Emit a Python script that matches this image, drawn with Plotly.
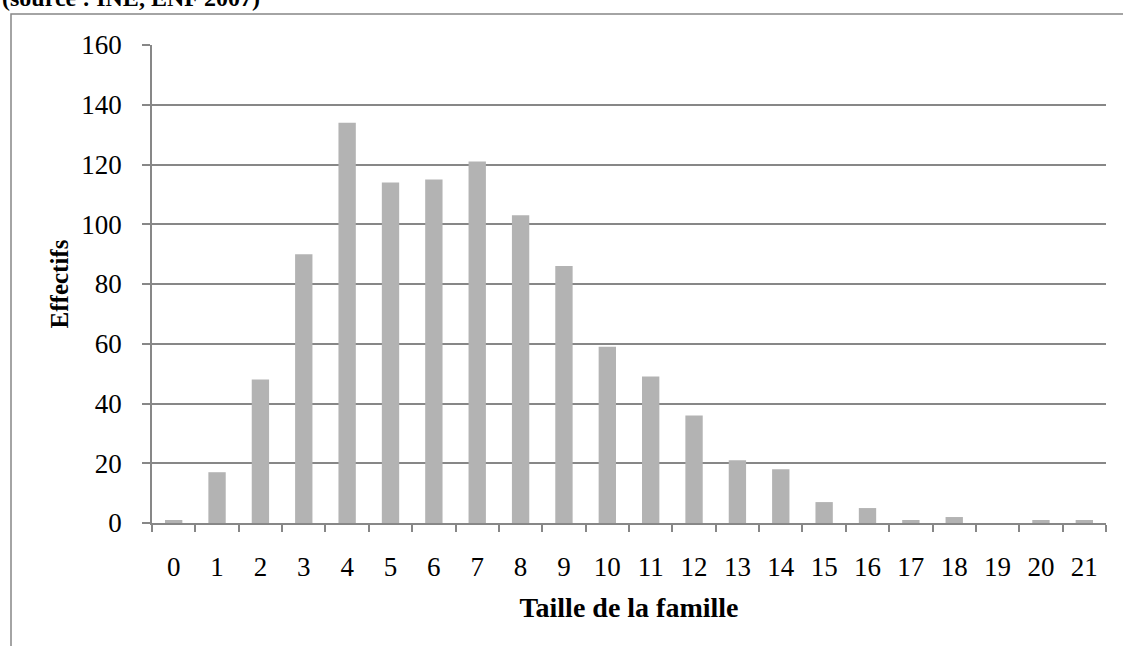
import plotly.graph_objects as go

categories = [str(i) for i in range(22)]
effectifs = [1, 17, 48, 90, 134, 114, 115, 121, 103, 86, 59, 49, 36, 21, 18, 7, 5, 1, 2, 0, 1, 1]
y_ticks = [0, 20, 40, 60, 80, 100, 120, 140, 160]

W, H = 1123, 646
L, R, T, B = 152, 17, 45, 123
pw, ph = W - L - R, H - T - B

def px_x(x):
    return (x - L) / pw

def px_y(y):
    return (H - B - y) / ph

GRAY = "#878787"
SERIF = "Liberation Serif"

fig = go.Figure(go.Bar(
    x=categories, y=effectifs,
    marker=dict(color="#b3b3b3", line=dict(width=0)),
))

fig.update_layout(
    width=W, height=H,
    margin=dict(l=L, r=R, t=T, b=B, autoexpand=False),
    paper_bgcolor="white", plot_bgcolor="white",
    bargap=0.6, showlegend=False,
    font=dict(family=SERIF, size=27, color="black"),
)

fig.update_xaxes(
    type="category", tickson="boundaries",
    ticks="outside", ticklen=7, tickwidth=1.5, tickcolor=GRAY,
    showline=True, linecolor=GRAY, linewidth=1.5,
    showgrid=False, ticklabelstandoff=19,
    tickfont=dict(family=SERIF, size=27),
    title=dict(text="<b>Taille de la famille</b>", font=dict(family=SERIF, size=28), standoff=16),
)
fig.update_yaxes(
    range=[0, 160], tickvals=y_ticks,
    ticks="outside", ticklen=8, tickwidth=1.5, tickcolor=GRAY,
    showline=True, linecolor=GRAY, linewidth=1.5,
    showgrid=True, gridcolor=GRAY, gridwidth=1.5,
    zeroline=False, ticklabelstandoff=15,
    tickfont=dict(family=SERIF, size=27),
    title=dict(text="<b>Effectifs</b>", font=dict(family=SERIF, size=25), standoff=6),
)

# outer frame
fig.add_shape(type="rect", xref="paper", yref="paper",
              x0=px_x(11), x1=px_x(1140), y0=px_y(700), y1=px_y(14),
              line=dict(color=GRAY, width=1.5), fillcolor="rgba(0,0,0,0)", layer="below")

fig.add_annotation(text="<b>(source : INE, ENF 2007)</b>", xref="paper", yref="paper",
                   x=px_x(0), y=px_y(-2), xanchor="left", yanchor="middle", showarrow=False,
                   font=dict(family=SERIF, size=24, color="black"))

fig.write_html("out.html", config={"displayModeBar": False},
               post_script="document.body.style.margin='0';")
